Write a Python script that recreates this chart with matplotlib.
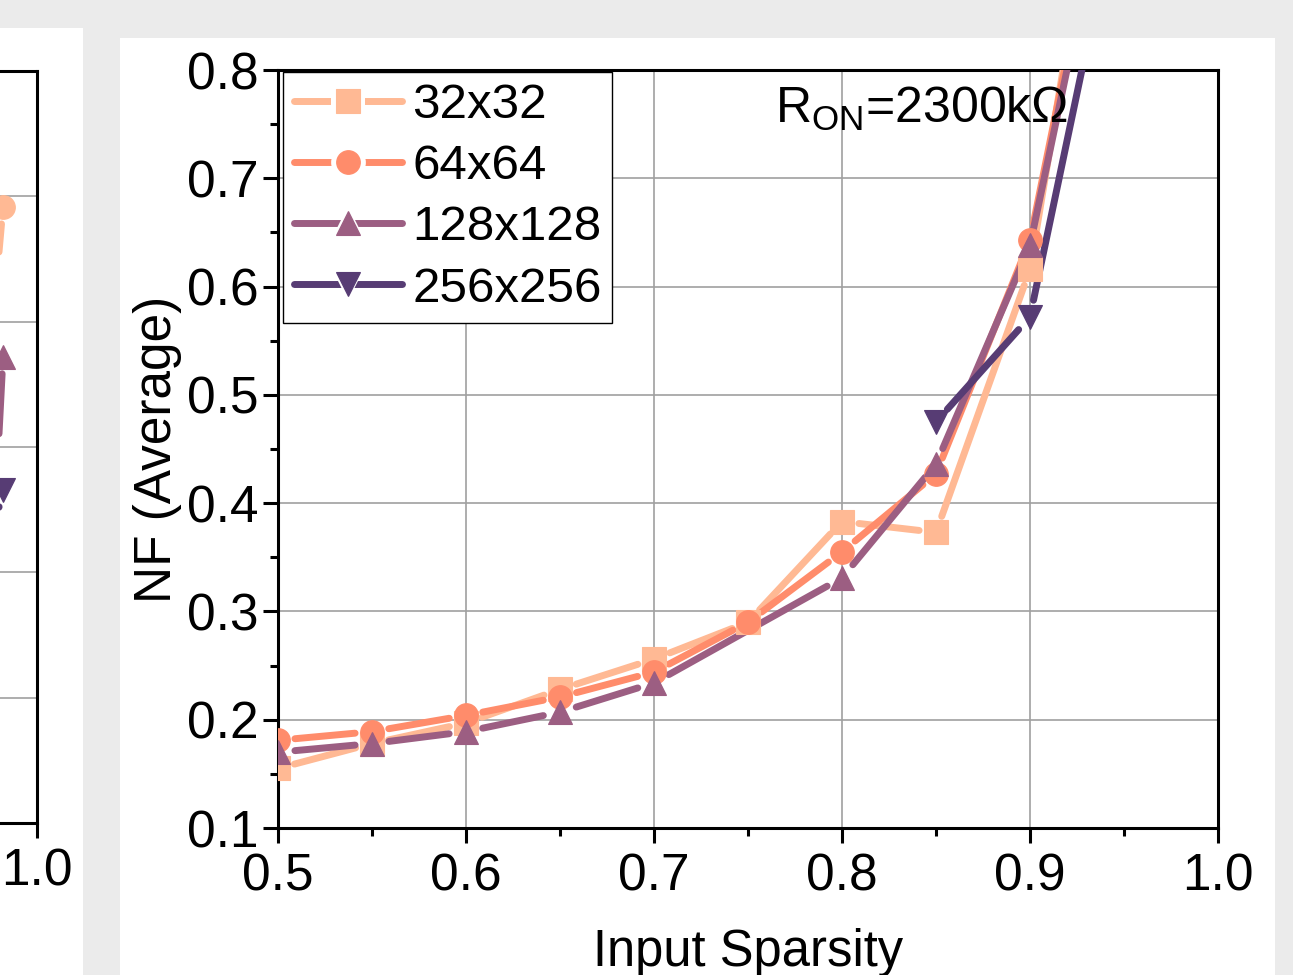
import matplotlib
matplotlib.use("Agg")
import matplotlib.pyplot as plt
from matplotlib.lines import Line2D
from matplotlib.legend_handler import HandlerTuple
from matplotlib.patches import Rectangle
import numpy as np

plt.rcParams['font.family'] = ['Liberation Sans', 'DejaVu Sans']
plt.rcParams['mathtext.fontset'] = 'custom'
plt.rcParams['mathtext.rm'] = 'Liberation Sans'

# data
labels = ['32x32', '64x64', '128x128', '256x256']
colors = ['#FFB994', '#FF8C6B', '#9C5E82', '#573C74']
markers = ['s', 'o', '^', 'v']

x32 = [0.5, 0.55, 0.6, 0.65, 0.7, 0.75, 0.8, 0.85, 0.9, 0.95]
nf32 = [0.155, 0.178, 0.197, 0.228, 0.256, 0.290, 0.383, 0.373, 0.616, 1.14]
x64 = [0.5, 0.55, 0.6, 0.65, 0.7, 0.75, 0.8, 0.85, 0.9, 0.95]
nf64 = [0.181, 0.189, 0.204, 0.221, 0.244, 0.290, 0.355, 0.427, 0.643, 1.07]
x128 = [0.5, 0.55, 0.6, 0.65, 0.7, 0.8, 0.85, 0.9, 0.95]
nf128 = [0.170, 0.178, 0.189, 0.207, 0.234, 0.331, 0.436, 0.638, 1.05]
x256 = [0.85, 0.9, 0.95]
nf256 = [0.475, 0.572, 0.985]

# neighbouring panel (only its right edge is visible)
xl = [0.9, 0.95]
left_vals = [[0.373, 0.983], [-0.3, 0.744], [0.3, 0.531]]
left_cols = ['#FFB994', '#9C5E82', '#573C74']
left_marks = ['o', '^', 'v']

W, H = 1293, 975
fig = plt.figure(figsize=(W / 100, H / 100), dpi=100)
fig.patch.set_facecolor('#EBEBEB')

def px_rect(x0, y0, x1, y1):
    return [x0 / W, 1 - y1 / H, (x1 - x0) / W, (y1 - y0) / H]

for r in [px_rect(0, 28, 83, 990), px_rect(120, 38, 1275, 990)]:
    fig.add_artist(Rectangle((r[0], r[1]), r[2], r[3], transform=fig.transFigure,
                             facecolor='white', edgecolor='none', zorder=0))

LW = 5
MS = 17
GAP = 17
FS = 37


def gapped(ax, xs, ys, color, mk):
    pts = ax.transData.transform(np.column_stack([xs, ys]))
    inv = ax.transData.inverted()
    for p0, p1 in zip(pts[:-1], pts[1:]):
        d = p1 - p0
        L = np.hypot(*d)
        if L <= 2 * GAP:
            continue
        u = d / L
        a = inv.transform(p0 + u * GAP)
        b = inv.transform(p1 - u * GAP)
        ax.plot([a[0], b[0]], [a[1], b[1]], color=color, lw=LW,
                solid_capstyle='round', zorder=3)
    ax.plot(xs, ys, ls='none', marker=mk, color=color, ms=MS, mew=0.8, zorder=4)


def style(ax):
    for s in ax.spines.values():
        s.set_linewidth(2.2)
    ax.tick_params(which='major', direction='out', length=10.8, width=2.2,
                   top=False, right=False, labelsize=FS)
    ax.tick_params(which='minor', direction='out', length=5.8, width=2.2,
                   top=False, right=False)
    ax.tick_params(axis='x', pad=7)
    ax.tick_params(axis='y', pad=3)


# left partial panel
axl = fig.add_axes(px_rect(-303, 71, 37, 823))
axl.set_xlim(0.5, 1.0)
axl.set_ylim(0, 1.2)
axl.set_xticks([1.0])
axl.set_xticklabels(['1.0'])
axl.set_yticks(np.arange(0, 1.21, 0.2))
axl.set_yticklabels([])
axl.grid(axis='y', color='#A0A0A0', lw=1.2)
style(axl)
for vals, c, m in zip(left_vals, left_cols, left_marks):
    gapped(axl, xl, vals, c, m)

# main panel
ax = fig.add_axes(px_rect(278, 70, 1218, 828))
ax.set_xlim(0.5, 1.0)
ax.set_ylim(0.1, 0.8)
ax.set_xticks(np.arange(0.5, 1.01, 0.1))
ax.set_xticklabels(['0.5', '0.6', '0.7', '0.8', '0.9', '1.0'])
ax.set_xticks(np.arange(0.55, 1.0, 0.1), minor=True)
ax.set_yticks(np.arange(0.1, 0.81, 0.1))
ax.set_yticklabels(['0.1', '0.2', '0.3', '0.4', '0.5', '0.6', '0.7', '0.8'])
ax.set_yticks(np.arange(0.15, 0.8, 0.1), minor=True)
ax.grid(which='major', color='#A0A0A0', lw=1.2)
ax.set_axisbelow(True)
style(ax)

series = [(x32, nf32), (x64, nf64), (x128, nf128), (x256, nf256)]
handles = []
for (xs, ys), c, m, lab in zip(series, colors, markers, labels):
    gapped(ax, xs, ys, c, m)
    h_line = Line2D([], [], color=c, lw=LW, solid_capstyle='round')
    h_gap = Line2D([], [], ls='none', marker=m, color='white', ms=MS + 8, mew=0)
    h_mk = Line2D([], [], ls='none', marker=m, color=c, ms=MS, mew=0.8)
    handles.append((h_line, h_gap, h_mk))

leg = ax.legend(handles, labels,
                handler_map={tuple: HandlerTuple(ndivide=1, pad=0)},
                loc='upper left', bbox_to_anchor=(5 / 940, 1 - 2 / 758),
                borderaxespad=0, fontsize=35.5, handlelength=2.2, handletextpad=0.2,
                labelspacing=0.33, borderpad=0.22, fancybox=False, framealpha=1,
                edgecolor='black')
leg.get_frame().set_linewidth(1.0)

ax.text(0.529, 0.98, 'R$_{\\mathrm{ON}}$=2300k\u03a9', transform=ax.transAxes,
        fontsize=36, ha='left', va='top')

ax.set_xlabel('Input Sparsity', fontsize=36.5, labelpad=19)
ax.set_ylabel('NF (Average)', fontsize=37, labelpad=4)

fig.savefig('out.png', dpi=100, facecolor=fig.get_facecolor())
